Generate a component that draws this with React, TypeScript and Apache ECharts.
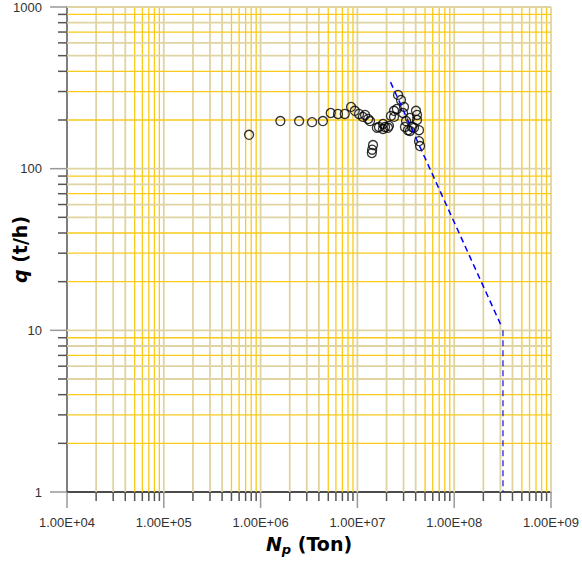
import React, { useEffect, useRef } from "react";
import * as echarts from "echarts";

// ---- data ----
const npValues = [
  7.6e5, 1.6e6, 2.5e6, 3.4e6, 4.4e6, 5.3e6, 6.3e6, 7.4e6, 8.6e6, 9.4e6,
  1.04e7, 1.14e7, 1.2e7, 1.29e7, 1.35e7, 1.41e7, 1.42e7, 1.45e7, 1.59e7, 1.67e7,
  1.84e7, 1.84e7, 1.93e7, 2.07e7, 2.12e7, 2.22e7, 2.39e7, 2.39e7, 2.56e7, 2.63e7,
  2.82e7, 2.96e7, 3.03e7, 3.1e7, 3.18e7, 3.33e7, 3.49e7, 3.49e7, 3.66e7, 3.84e7,
  4.03e7, 4.13e7, 4.13e7, 4.33e7, 4.33e7, 4.44e7,
];
const qValues = [
  162, 197, 197, 194, 197, 221, 218, 218, 241, 228,
  218, 209, 215, 203, 197, 125, 131, 140, 179, 181,
  189, 176, 181, 179, 184, 212, 228, 209, 234, 286,
  266, 221, 241, 181, 197, 173, 206, 171, 181, 179,
  228, 215, 200, 173, 148, 138,
];
const trendNp = [2.2e7, 3.1e8];
const trendQ = [343, 10.5];
const cutoffNp = [3.19e8, 3.19e8];
const cutoffQ = [10, 1];

// axis structure
const X_MIN = 1e4;
const X_MAX = 1e9;
const Y_MIN = 1;
const Y_MAX = 1000;
const xDecades = [1e4, 1e5, 1e6, 1e7, 1e8, 1e9];
const yDecades = [1, 10, 100, 1000];
const minorMultipliers = [2, 3, 4, 5, 6, 7, 8, 9];
const xYellowMults = [5, 6, 7, 8, 9];
const yYellowMults = [2, 3, 4, 7, 9];

const TAN = "#e0d3a2";
const YELLOW = "#f9ca1a";

function buildGrid(decades: number[], yellow: number[]) {
  // [value, kind] kind: 0 = decade, 1 = tan minor, 2 = yellow minor
  const out: number[][] = [];
  decades.forEach((d, i) => {
    out.push([d, 0]);
    if (i < decades.length - 1) {
      minorMultipliers.forEach((m) => {
        out.push([d * m, yellow.includes(m) ? 2 : 1]);
      });
    }
  });
  return out;
}

const xGrid = buildGrid(xDecades, xYellowMults);
const yGrid = buildGrid(yDecades, yYellowMults);

function fmtSci(v: number) {
  const e = Math.round(Math.log10(v));
  const mant = v / Math.pow(10, e);
  const es = (e < 10 ? "0" : "") + e;
  return mant.toFixed(2) + "E+" + es;
}

export default function App() {
  const ref = useRef<HTMLDivElement>(null);

  useEffect(() => {
    if (!ref.current) return;
    const chart = echarts.init(ref.current, undefined, { renderer: "svg" });

    const option: any = {
      animation: false,
      backgroundColor: "#ffffff",
      grid: { left: 67, right: 31, top: 7, bottom: 69, containLabel: false, outerBoundsMode: "none" },
      xAxis: {
        type: "log",
        logBase: 10,
        min: X_MIN,
        max: X_MAX,
        splitNumber: 5,
        axisLine: { show: true, lineStyle: { color: "#111", width: 1.5 } },
        axisTick: { show: false },
        splitLine: { show: false },
        axisLabel: {
          margin: 24,
          fontSize: 13,
          color: "#333",
          fontFamily: "Liberation Sans, Arial, sans-serif",
          formatter: (v: number) => fmtSci(v),
        },
        name: "{n|N}{p|p}{t| (Ton)}",
        nameLocation: "middle",
        nameGap: 40,
        nameMoveOverlap: false,
        nameTextStyle: {
          rich: {
            n: { fontFamily: "DejaVu Sans", fontWeight: "bold", fontStyle: "italic", fontSize: 19, color: "#000", lineHeight: 24 },
            p: { fontFamily: "DejaVu Sans", fontWeight: "bold", fontStyle: "italic", fontSize: 13, color: "#000", lineHeight: 10, verticalAlign: "bottom" },
            t: { fontFamily: "DejaVu Sans", fontWeight: "bold", fontSize: 19, color: "#000", lineHeight: 24 },
          },
        },
      },
      yAxis: {
        type: "log",
        logBase: 10,
        min: Y_MIN,
        max: Y_MAX,
        splitNumber: 3,
        axisLine: { show: true, lineStyle: { color: "#555", width: 1.5 } },
        axisTick: { show: false },
        splitLine: { show: false },
        axisLabel: {
          margin: 25,
          fontSize: 13,
          color: "#333",
          fontFamily: "Liberation Sans, Arial, sans-serif",
          formatter: (v: number) => String(Math.round(v)),
        },
        name: "{q|q}{t| (t/h)}",
        nameLocation: "middle",
        nameGap: 38,
        nameMoveOverlap: false,
        nameTextStyle: {
          rich: {
            q: { fontFamily: "DejaVu Sans", fontWeight: "bold", fontStyle: "italic", fontSize: 19, color: "#000" },
            t: { fontFamily: "DejaVu Sans", fontWeight: "bold", fontSize: 19, color: "#000" },
          },
        },
      },
      series: [
        {
          type: "custom",
          name: "xgrid",
          silent: true,
          clip: false,
          z: 1,
          data: xGrid.map((g) => [g[0], Y_MIN, g[1]]),
          encode: { x: 0, y: 1 },
          renderItem: (params: any, api: any) => {
            const v = api.value(0);
            const kind = api.value(2);
            const b = api.coord([v, Y_MIN]);
            const t = api.coord([v, Y_MAX]);
            const color = kind === 2 ? YELLOW : TAN;
            const tickLen = kind === 0 ? 16 : 9;
            const children: any[] = [];
            if (v > X_MIN) {
              children.push({
                type: "line",
                shape: { x1: b[0], y1: b[1], x2: t[0], y2: t[1] },
                style: { stroke: color, lineWidth: kind === 2 ? 1.3 : 1.8 },
              });
            }
            children.push({
              type: "line",
              shape: { x1: b[0], y1: b[1], x2: b[0], y2: b[1] + tickLen },
              style: { stroke: kind === 0 ? "#999" : "#555", lineWidth: 1.5 },
            });
            return { type: "group", children };
          },
        },
        {
          type: "custom",
          name: "ygrid",
          silent: true,
          clip: false,
          z: 1,
          data: yGrid.map((g) => [X_MIN, g[0], g[1]]),
          encode: { x: 0, y: 1 },
          renderItem: (params: any, api: any) => {
            const v = api.value(1);
            const kind = api.value(2);
            const l = api.coord([X_MIN, v]);
            const r = api.coord([X_MAX, v]);
            const color = kind === 2 ? YELLOW : TAN;
            const tickLen = kind === 0 ? 17 : 9;
            const children: any[] = [];
            if (v > Y_MIN) {
              children.push({
                type: "line",
                shape: { x1: l[0], y1: l[1], x2: r[0], y2: r[1] },
                style: { stroke: color, lineWidth: kind === 2 ? 1.3 : 1.8 },
              });
            }
            children.push({
              type: "line",
              shape: { x1: l[0] - tickLen, y1: l[1], x2: l[0], y2: l[1] },
              style: { stroke: kind === 0 ? "#999" : "#555", lineWidth: 1.5 },
            });
            return { type: "group", children };
          },
        },
        {
          type: "scatter",
          z: 3,
          symbol: "circle",
          symbolSize: 9,
          itemStyle: { color: "rgba(0,0,0,0)", borderColor: "#000", borderWidth: 1.3 },
          data: npValues.map((x, i) => [x, qValues[i]]),
        },
        {
          type: "line",
          z: 4,
          symbol: "none",
          lineStyle: { color: "#0000ff", width: 1.5, type: [6, 4] },
          data: trendNp.map((x, i) => [x, trendQ[i]]),
        },
        {
          type: "line",
          z: 4,
          symbol: "none",
          lineStyle: { color: "#2020e0", width: 1.3, type: [6, 4] },
          data: cutoffNp.map((x, i) => [x, cutoffQ[i]]),
        },
      ],
    };

    chart.setOption(option);
    return () => chart.dispose();
  }, []);

  return (
    <div
      ref={ref}
      style={{ position: "fixed", left: 0, top: 0, width: 582, height: 561, background: "#fff" }}
    />
  );
}
